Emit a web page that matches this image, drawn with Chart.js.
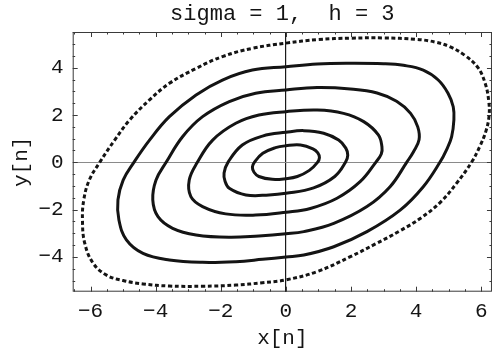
<!DOCTYPE html>
<html>
<head>
<meta charset="utf-8">
<script src="https://cdn.jsdelivr.net/npm/chart.js@4"></script>
<style>
  html, body { margin: 0; padding: 0; background: #fff; }
</style>
</head>
<body>
<canvas id="myChart" width="495" height="351"></canvas>
<script>
// axis ticks
var xTicks = [-6, -4, -2, 0, 2, 4, 6];
var yTicks = [-4, -2, 0, 2, 4];

// orbits, going clockwise from the top x = 0 crossing
var x1 = [0, 0.45, 0.83, 0.98, 1.03, 0.97, 0.72, 0.35, 0, -0.42, -0.83, -0.98, -1.03, -0.97, -0.71, -0.32];
var y1 = [0.70, 0.73, 0.57, 0.40, 0.20, 0, -0.34, -0.60, -0.69, -0.72, -0.60, -0.42, -0.20, 0, 0.38, 0.62];

var x2 = [0, 0.55, 1.16, 1.62, 1.84, 1.90, 1.83, 1.50, 0.85, 0, -0.52, -1.23, -1.74, -1.87, -1.90, -1.78, -1.34, -0.72];
var y2 = [1.27, 1.34, 1.23, 0.94, 0.60, 0.30, 0, -0.60, -1.08, -1.31, -1.38, -1.38, -1.10, -0.80, -0.45, 0, 0.73, 1.11];

var x3 = [0, 0.96, 1.77, 2.39, 2.84, 2.95, 2.93, 2.76, 2.28, 1.57, 0.75, 0, -0.93, -1.85, -2.56, -2.92, -2.97, -2.72, -2.25, -1.54, -0.83];
var y3 = [2.14, 2.21, 2.07, 1.72, 1.16, 0.66, 0.35, 0, -0.82, -1.52, -1.95, -2.11, -2.23, -2.18, -1.87, -1.45, -0.75, 0, 0.94, 1.65, 2.0];

var x4 = [0, 0.96, 1.98, 2.80, 3.40, 3.83, 4.05, 4.09, 3.92, 3.71, 3.20, 2.49, 1.47, 0.55, 0, -0.83, -1.74, -2.76, -3.48, -3.93, -4.09, -3.99, -3.68, -3.17, -2.56, -1.74, -0.93];
var y4 = [3.06, 3.16, 3.10, 2.93, 2.58, 2.07, 1.50, 0.95, 0.45, 0, -1.03, -1.87, -2.58, -2.93, -3.02, -3.11, -3.17, -3.07, -2.79, -2.30, -1.59, -0.75, 0, 1.09, 1.93, 2.57, 2.92];

var x5 = [0, 0.96, 1.98, 3.0, 3.61, 4.22, 4.68, 4.98, 5.14, 5.16, 5.09, 4.93, 4.73, 4.22, 3.51, 2.49, 1.47, 0.55, 0, -0.72, -1.54, -2.56, -3.58, -4.39, -4.90, -5.13, -5.16, -5.0, -4.67, -4.19, -3.58, -2.76, -1.95, -1.03];
var y5 = [4.04, 4.16, 4.19, 4.17, 4.10, 3.90, 3.48, 2.92, 2.35, 1.79, 1.08, 0.52, 0, -1.03, -2.02, -2.93, -3.57, -3.92, -4.0, -4.10, -4.20, -4.23, -4.13, -3.85, -3.28, -2.44, -1.59, -0.75, 0, 0.94, 1.93, 2.85, 3.48, 3.90];

var x6 = [0, 1.0, 2.0, 3.0, 4.0, 4.6, 5.05, 5.5, 5.9, 6.12, 6.23, 6.24, 6.14, 5.96, 5.70, 5.24, 4.75, 4.15, 3.5, 2.75, 1.98, 0.96, 0, -0.72, -1.54, -2.56, -3.58, -4.39, -5.0, -5.51, -5.92, -6.18, -6.25, -6.21, -6.04, -5.72, -5.26, -4.80, -4.19, -3.58, -2.76, -1.95, -1.03];
var y6 = [5.04, 5.19, 5.25, 5.26, 5.20, 5.08, 4.88, 4.52, 4.0, 3.35, 2.60, 1.95, 1.30, 0.68, 0, -0.89, -1.68, -2.35, -2.90, -3.45, -3.99, -4.62, -4.97, -5.09, -5.19, -5.24, -5.23, -5.14, -5.0, -4.77, -4.27, -3.42, -2.44, -1.59, -0.75, 0, 0.94, 1.79, 2.64, 3.34, 3.97, 4.47, 4.82];

var ink = '#141414';
var monoFont = "'Liberation Mono', 'DejaVu Sans Mono', monospace";

// closed loop: one hidden point before and after so the join is smooth
function loop(xs, ys, dashed) {
    var n = xs.length;
    var idx = [n - 1];
    for (var i = 0; i < n; i++) idx.push(i);
    idx.push(0, 1);
    var last = idx.length - 2;
    return {
        data: idx.map(function (i) { return {x: xs[i], y: ys[i]}; }),
        showLine: true,
        borderColor: ink,
        borderWidth: 3,
        borderDash: dashed ? [4, 2.6] : [],
        pointRadius: 0,
        tension: 0.4,
        segment: {
            borderColor: function (ctx) {
                return (ctx.p0DataIndex === 0 || ctx.p0DataIndex === last) ? 'rgba(0,0,0,0)' : undefined;
            }
        }
    };
}

function label(v) {
    return v < 0 ? '\u2212' + Math.abs(v) : String(v);
}

// box round the plot with small inward ticks, like the original frame
var framePlugin = {
    id: 'frame',
    beforeDatasetsDraw: function (chart) {
        var ctx = chart.ctx, a = chart.chartArea;
        var xs = chart.scales.x, ys = chart.scales.y;
        ctx.save();
        ctx.strokeStyle = '#3a3a3a';
        ctx.lineWidth = 1;
        ctx.strokeRect(a.left + 0.5, a.top + 0.5, a.right - a.left - 1, a.bottom - a.top - 1);
        ctx.beginPath();
        var v, p, len;
        for (v = Math.ceil(xs.min * 2) / 2; v <= xs.max; v += 0.5) {
            p = Math.round(xs.getPixelForValue(v)) + 0.5;
            len = (v % 2 === 0) ? 5 : 2.5;
            ctx.moveTo(p, a.bottom); ctx.lineTo(p, a.bottom - len);
            ctx.moveTo(p, a.top); ctx.lineTo(p, a.top + len);
        }
        for (v = Math.ceil(ys.min * 2) / 2; v <= ys.max; v += 0.5) {
            p = Math.round(ys.getPixelForValue(v)) + 0.5;
            len = (v % 2 === 0) ? 5 : 2.5;
            ctx.moveTo(a.left, p); ctx.lineTo(a.left + len, p);
            ctx.moveTo(a.right, p); ctx.lineTo(a.right - len, p);
        }
        ctx.stroke();
        ctx.restore();
    }
};

var ctx = document.getElementById('myChart').getContext('2d');
var myChart = new Chart(ctx, {
    type: 'scatter',
    data: {
        datasets: [
            loop(x1, y1), loop(x2, y2), loop(x3, y3),
            loop(x4, y4), loop(x5, y5), loop(x6, y6, true)
        ]
    },
    options: {
        responsive: false,
        animation: false,
        devicePixelRatio: 1,
        layout: {padding: {left: 0, right: 1, top: 0, bottom: 0}},
        plugins: {
            legend: {display: false},
            tooltip: {enabled: false},
            title: {
                display: true,
                fullSize: false,
                text: 'sigma = 1,  h = 3',
                color: ink,
                font: {family: monoFont, size: 22, weight: 'normal'},
                padding: {top: 1, bottom: 4.6}
            }
        },
        scales: {
            x: {
                type: 'linear',
                min: -6.55,
                max: 6.33,
                afterBuildTicks: function (s) { s.ticks = xTicks.map(function (v) { return {value: v}; }); },
                afterFit: function (s) { s.height = 59.3; },
                ticks: {
                    color: ink,
                    padding: 7.4,
                    maxRotation: 0,
                    font: {family: monoFont, size: 21},
                    callback: function (v) { return label(v); }
                },
                grid: {
                    drawTicks: false,
                    lineWidth: 1.2,
                    color: function (c) { return c.tick && c.tick.value === 0 ? '#1a1a1a' : 'rgba(0,0,0,0)'; }
                },
                border: {display: false},
                title: {
                    display: true,
                    text: 'x[n]',
                    color: ink,
                    font: {family: monoFont, size: 21},
                    padding: {top: 0, bottom: 0}
                }
            },
            y: {
                type: 'linear',
                min: -5.47,
                max: 5.51,
                afterBuildTicks: function (s) { s.ticks = yTicks.map(function (v) { return {value: v}; }); },
                afterFit: function (s) { s.width = 72.7; },
                ticks: {
                    color: ink,
                    padding: 9,
                    font: {family: monoFont, size: 21},
                    callback: function (v) { return label(v); }
                },
                grid: {
                    drawTicks: false,
                    lineWidth: 1,
                    color: function (c) { return c.tick && c.tick.value === 0 ? '#8a8a8a' : 'rgba(0,0,0,0)'; }
                },
                border: {display: false},
                title: {
                    display: true,
                    text: 'y[n]',
                    color: ink,
                    font: {family: monoFont, size: 21},
                    padding: {top: 8.4, bottom: 0}
                }
            }
        }
    },
    plugins: [framePlugin]
});
</script>
</body>
</html>
